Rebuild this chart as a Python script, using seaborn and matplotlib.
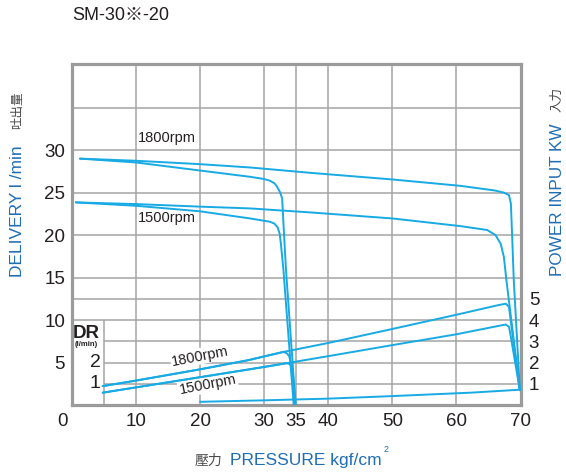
import matplotlib
matplotlib.use("Agg")
import matplotlib.pyplot as plt
from matplotlib import transforms
import seaborn as sns

# ---------------- data ----------------
x_ticks = [0, 10, 20, 30, 35, 40, 50, 60, 70]
x_ticklabels = ["0", "10", "20", "30", "35", "40", "50", "60", "70"]
delivery_ticks = [5, 10, 15, 20, 25, 30]
power_ticks = [1, 2, 3, 4, 5]
dr_ticks = [1, 2]

# delivery (l/min) vs pressure (kgf/cm2)
d1800_35_p = [1.25, 10, 20, 27.8, 30.0, 30.9, 31.6, 32.0, 32.5, 32.8, 33.0, 33.4, 34.9]
d1800_35_v = [29.0, 28.55, 27.6, 26.86, 26.6, 26.4, 26.1, 25.7, 25.0, 24.3, 21.4, 15.9, 0.0]
d1800_70_p = [1.25, 10, 20, 27.8, 37.2, 50, 60.6, 66.0, 67.4, 68.2, 68.5, 68.7, 68.95, 69.9]
d1800_70_v = [29.0, 28.75, 28.35, 27.96, 27.33, 26.55, 25.8, 25.25, 25.0, 24.7, 23.7, 19.8, 14.7, 1.76]
d1500_35_p = [0.6, 10, 20, 27.8, 30.9, 31.6, 32.1, 32.4, 32.6, 33.0, 34.6]
d1500_35_v = [23.85, 23.45, 22.8, 21.96, 21.57, 21.35, 20.9, 20.2, 19.0, 15.9, 0.0]
d1500_70_p = [0.6, 10, 20, 27.8, 37.2, 50, 60.6, 64.8, 66.1, 66.9, 67.4, 67.8, 69.9]
d1500_70_v = [23.85, 23.65, 23.35, 23.14, 22.67, 21.96, 21.06, 20.6, 20.0, 19.0, 17.45, 14.7, 1.76]

# power input (kW) vs pressure
w1800_70_p = [4.8, 10, 20, 27.5, 33, 40, 50, 60, 66.5, 67.7, 68.2, 68.4, 69.9]
w1800_70_v = [0.89, 1.15, 1.68, 2.11, 2.5, 2.92, 3.58, 4.25, 4.7, 4.77, 4.62, 4.15, 0.70]
w1800_35_p = [4.8, 10, 20, 27.5, 33.0, 33.5, 33.9, 34.1, 34.3, 34.8]
w1800_35_v = [0.89, 1.15, 1.68, 2.11, 2.5, 2.44, 2.3, 2.03, 1.49, 0.0]
w1500_70_p = [4.8, 10, 20, 27.5, 30, 40, 50, 60, 66.5, 67.7, 68.2, 68.4, 69.9]
w1500_70_v = [0.58, 0.83, 1.31, 1.67, 1.79, 2.3, 2.82, 3.33, 3.72, 3.79, 3.68, 3.37, 0.70]
w1500_35_p = [4.8, 10, 20, 27.5, 33.5, 34.0, 34.3, 34.5, 34.9]
w1500_35_v = [0.58, 0.83, 1.31, 1.67, 1.97, 1.92, 1.75, 1.4, 0.0]

# drain (l/min)
dr_p = [20, 30, 40, 50, 62.2, 69.9]
dr_v = [0.15, 0.22, 0.30, 0.42, 0.58, 0.72]

# grid positions
vgrid_full = [10, 20, 30, 35, 40, 50, 60]
vgrid_box = [5]
hgrid_del_full = [10, 15, 20, 25, 30, 35]
hgrid_del_part = [5]
hgrid_pow_full = [5]
hgrid_pow_part = [1, 3]

# ---------------- style ----------------
sns.set_style("white")
plt.rcParams['font.family'] = ['Liberation Sans', 'Noto Sans CJK JP', 'DejaVu Sans']

CURVE = '#17aae4'
BLUE = '#1f6db4'
GRID = '#a4a4a4'
FRAME = '#9b9b9b'
TXT = '#231f20'
CJK = '#4a4a4a'

W, H = 566, 472
fig = plt.figure(figsize=(W / 100, H / 100), dpi=100)
L, R, T, B = 72, 520.5, 63.5, 405
ax = fig.add_axes([L / W, 1 - B / H, (R - L) / W, (B - T) / H])
ax2 = ax.twinx()
ax.set_zorder(2)
ax2.set_zorder(1)
ax.patch.set_visible(False)

YMAX = 40.2

# grid (on the lower axes)
gkw = dict(colors=GRID, linewidth=1.1, zorder=0.5)
ax2.vlines(vgrid_full, 0, 1, transform=ax2.get_xaxis_transform(), **gkw)
ax2.vlines(vgrid_box, 0, 10, transform=ax.transData, **gkw)
ax2.hlines(hgrid_del_full, 0, 70, transform=ax.transData, **gkw)
ax2.hlines(hgrid_del_part, 5, 70, transform=ax.transData, **gkw)
ax2.hlines(hgrid_pow_full, 0, 70, **gkw)
ax2.hlines(hgrid_pow_part, 5, 70, **gkw)

lkw = dict(color=CURVE, linewidth=1.4, sort=False, estimator=None, legend=False)
for p, v in [(d1800_35_p, d1800_35_v), (d1800_70_p, d1800_70_v),
             (d1500_35_p, d1500_35_v), (d1500_70_p, d1500_70_v)]:
    sns.lineplot(x=p, y=v, ax=ax, zorder=3, **lkw)
for p, v in [(w1800_70_p, w1800_70_v), (w1800_35_p, w1800_35_v),
             (w1500_70_p, w1500_70_v), (w1500_35_p, w1500_35_v),
             (dr_p, dr_v)]:
    sns.lineplot(x=p, y=v, ax=ax2, zorder=3, **lkw)

ax.set_xlim(0, 70)
ax.set_ylim(0, YMAX)
ax2.set_ylim(0, YMAX / 2.5)

# frame
for sp in ax.spines.values():
    sp.set_color(FRAME)
    sp.set_linewidth(2.3)
for sp in ax2.spines.values():
    sp.set_visible(False)

# ticks
ax.set_xticks(x_ticks)
ax.set_xticklabels(x_ticklabels)
ax.set_yticks(delivery_ticks)
ax.set_yticklabels([str(v) for v in delivery_ticks])
ax2.set_yticks(power_ticks)
ax2.set_yticklabels([str(v) for v in power_ticks])
ax.tick_params(axis='x', length=0, pad=6, labelsize=13.5, labelcolor=TXT)
ax.tick_params(axis='y', length=0, pad=5, labelsize=13.5, labelcolor=TXT)
ax2.tick_params(axis='y', length=0, pad=6, labelsize=13.5, labelcolor=TXT)
ax.set_xlabel('')
ax.set_ylabel('')
ax2.set_ylabel('')
lab0 = ax.get_xticklabels()[0]
lab0.set_transform(lab0.get_transform() + transforms.ScaledTranslation(-7 / 72, 0, fig.dpi_scale_trans))

# curve labels
ax.text(10.3, 31.4, "1800rpm", fontsize=10.5, color=TXT, ha='left', va='center')
ax.text(10.3, 22.0, "1500rpm", fontsize=10.5, color=TXT, ha='left', va='center')
bb = dict(facecolor='white', edgecolor='none', pad=0.8)
ax2.text(20.0, 2.3, "1800rpm", fontsize=10.5, color=TXT, rotation=11,
         rotation_mode='anchor', ha='center', va='center', bbox=bb, zorder=2.5)
ax2.text(21.2, 0.95, "1500rpm", fontsize=10.5, color=TXT, rotation=11,
         rotation_mode='anchor', ha='center', va='center', bbox=bb, zorder=2.5)

# DR box labels
ax2.text(2.3, 3.39, "DR", fontsize=13.5, fontweight='bold', color=TXT, ha='center', va='center')
ax2.text(2.3, 2.87, "(l/min)", fontsize=5.5, fontweight='bold', color=TXT, ha='center', va='center')
for v in dr_ticks:
    ax2.text(4.5, v, str(v), fontsize=14, color=TXT, ha='right', va='center')

# axis titles
def fx(x):
    return x / W

def fy(y):
    return 1 - y / H

fig.text(fx(18), fy(211), "DELIVERY l /min", rotation=90, color=BLUE, fontsize=12.5,
         ha='center', va='center')
fig.text(fx(18), fy(110), "吐出量", rotation=90, color=CJK, fontsize=9,
         ha='center', va='center', family=['Noto Sans CJK TC'])
fig.text(fx(557), fy(200), "POWER INPUT KW", rotation=90, color=BLUE, fontsize=12.3,
         ha='center', va='center')
fig.text(fx(557), fy(99), "入力", rotation=90, color=CJK, fontsize=9,
         ha='center', va='center', family=['Noto Sans CJK TC'])
fig.text(fx(195), fy(461), "壓力", color=CJK, fontsize=10, ha='left', va='center',
         family=['Noto Sans CJK TC'])
tp = fig.text(fx(230), fy(461), "PRESSURE kgf/cm", color=BLUE, fontsize=12.5, ha='left', va='center')
fig.text(fx(384), fy(449), "2", color=BLUE, fontsize=6.5, ha='left', va='center')

fig.text(fx(72), fy(16), "SM-30※-20", color=TXT, fontsize=13, ha='left', va='center')

fig.savefig("out.png", dpi=100, facecolor='white')
